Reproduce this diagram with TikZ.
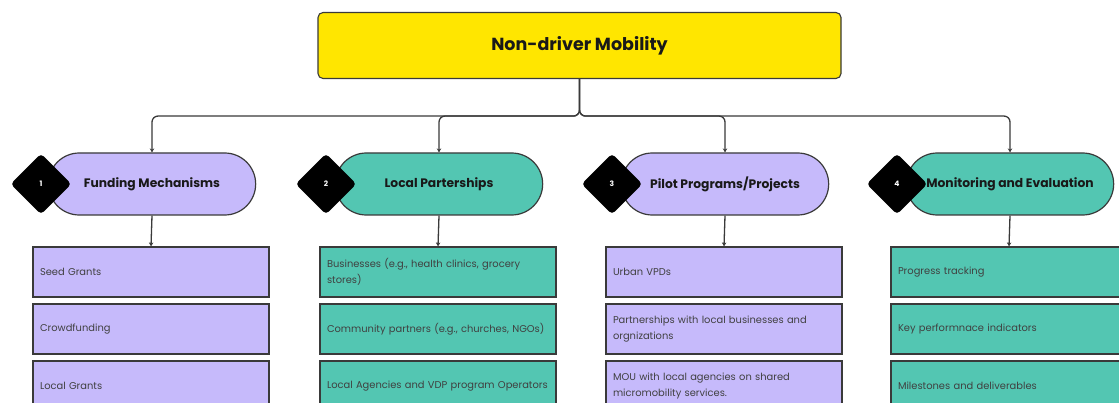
\documentclass[tikz,border=0pt]{standalone}
\usepackage{fontspec}
\setmainfont{Poppins}
\usetikzlibrary{shapes.geometric,shapes.misc,arrows.meta}
\definecolor{rootyellow}{HTML}{FFE600}
\definecolor{lavender}{HTML}{C6BAFB}
\definecolor{seagreen}{HTML}{53C6B2}
\definecolor{edgegray}{HTML}{3A3A3A}
\hyphenpenalty=10000

\begin{document}
\begin{tikzpicture}[x=1pt, y=-1pt,
  rootbox/.style={draw=edgegray, line width=1.1pt, fill=rootyellow, rounded corners=5pt,
    minimum width=523pt, minimum height=66pt, text=black!90,
    font=\fontsize{17.5}{20}\selectfont\bfseries},
  pill/.style={draw=edgegray, line width=1.2pt, rounded rectangle, minimum width=214pt,
    minimum height=62pt, text=black!90, font=\fontsize{12.3}{14}\selectfont\bfseries},
  badge/.style={diamond, fill=black, minimum width=61pt, minimum height=61pt, inner sep=0pt,
    rounded corners=4pt, text=white, font=\fontsize{7.5}{8}\selectfont\bfseries},
  item/.style={draw=edgegray, line width=1.2pt, minimum width=236pt, minimum height=50pt,
    text width=222pt, inner xsep=7pt, align=left, text=black!75,
    font=\fontsize{9.9}{16.5}\selectfont},
  link/.style={draw=edgegray, line width=1.3pt, -{Stealth[length=4pt, width=4.5pt]}},
]
  \useasboundingbox (0,0) rectangle (1119,403);
  \fill[white] (0,0) rectangle (1119,403);
  \clip (0,0) rectangle (1119,403);

  % Root
  \node[rootbox] (root) at (579.5,45.5) {Non-driver Mobility};

  % Column 1: funding
  \node[pill, fill=lavender] (p1) at (152,184) {Funding Mechanisms};
  \node[badge] (b1) at (41,184) {1};
  \node[item, fill=lavender] (a1) at (151,272) {Seed Grants};
  \node[item, fill=lavender] (c1) at (151,329) {Crowdfunding};
  \node[item, fill=lavender] (d1) at (151,386) {Local Grants};

  % Column 2: partnerships
  \node[pill, fill=seagreen] (p2) at (439,184) {Local Parterships};
  \node[badge] (b2) at (326,184) {2};
  \node[item, fill=seagreen] (a2) at (438,272) {Businesses (e.g., health clinics, grocery\\stores)};
  \node[item, fill=seagreen] (c2) at (438,329) {Community partners (e.g., churches, NGOs)};
  \node[item, fill=seagreen] (d2) at (438,386) {Local Agencies and VDP program \mbox{Operators}};

  % Column 3: pilots
  \node[pill, fill=lavender] (p3) at (725,184) {Pilot Programs/Projects};
  \node[badge] (b3) at (612,184) {3};
  \node[item, fill=lavender] (a3) at (724,272) {Urban VPDs};
  \node[item, fill=lavender] (c3) at (724,329) {Partnerships with local businesses and\\orgnizations};
  \node[item, fill=lavender] (d3) at (724,386) {MOU with local agencies on shared\\micromobility services.};

  % Column 4: monitoring
  \node[pill, fill=seagreen] (p4) at (1010,184) {Monitoring and Evaluation};
  \node[badge] (b4) at (897,184) {4};
  \node[item, fill=seagreen] (a4) at (1009,272) {Progress tracking};
  \node[item, fill=seagreen] (c4) at (1009,329) {Key performnace indicators};
  \node[item, fill=seagreen] (d4) at (1009,386) {Milestones and deliverables};

  % Connectors
  \foreach \n in {1,2,3,4} {
    \draw[link, rounded corners=6pt] (root.south) -- ++(0,37) -| (p\n.north);
    \draw[link] (p\n.south) -- (a\n.north);
  }
\end{tikzpicture}
\end{document}
